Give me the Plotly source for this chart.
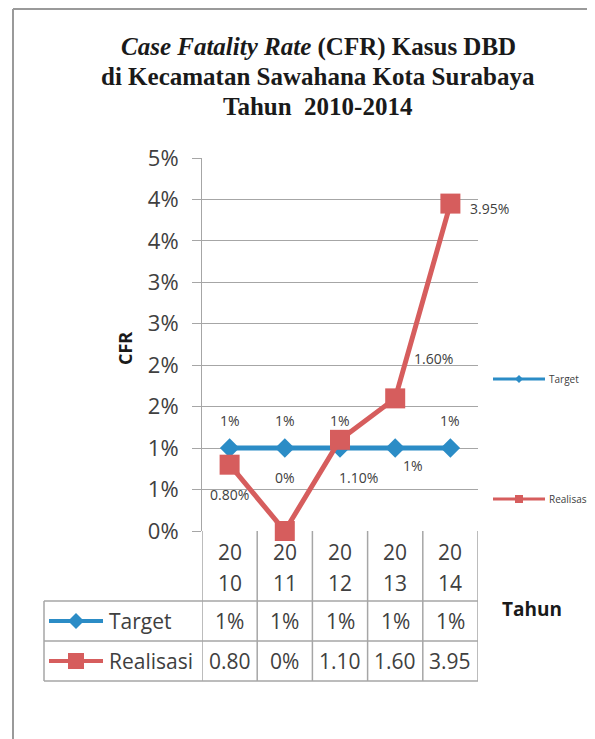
import plotly.graph_objects as go

# ---------------- data ----------------
years = ["2010", "2011", "2012", "2013", "2014"]
target = [1.0, 1.0, 1.0, 1.0, 1.0]
realisasi = [0.80, 0.0, 1.10, 1.60, 3.95]
target_labels = ["1%", "1%", "1%", "1%", "1%"]
realisasi_labels = ["0.80%", "0%", "1.10%", "1.60%", "3.95%"]
target_table = ["1%", "1%", "1%", "1%", "1%"]
realisasi_table = ["0.80", "0%", "1.10", "1.60", "3.95"]
y_tick_vals = [0, 0.5, 1.0, 1.5, 2.0, 2.5, 3.0, 3.5, 4.0, 4.5]
y_tick_text = ["0%", "1%", "1%", "2%", "2%", "3%", "3%", "4%", "4%", "5%"]
series_names = ["Target", "Realisasi"]

# ---------------- layout helpers ----------------
OFF = 8                      # page body margin
W, H = 595 - OFF, 739 - OFF  # visible figure size
def px(x):
    return (x - OFF) / W
def py(y):
    return 1 - (y - OFF) / H

BLUE = "#2b8cc6"
RED = "#d65d5d"
GRID = "#a6a6a6"
TXT = "#404040"
SANS = "Open Sans"
SERIF = "Liberation Serif"

x_idx = list(range(len(years)))

fig = go.Figure()
fig.add_trace(go.Scatter(
    x=x_idx, y=target, mode="lines+markers", name=series_names[0],
    line=dict(color=BLUE, width=5),
    marker=dict(symbol="diamond", size=15, color=BLUE),
    showlegend=False, cliponaxis=False))
fig.add_trace(go.Scatter(
    x=x_idx, y=realisasi, mode="lines+markers", name=series_names[1],
    line=dict(color=RED, width=5),
    marker=dict(symbol="square", size=20, color=RED),
    showlegend=False, cliponaxis=False))

ann = []
shapes = []

# data labels (offsets in pixels)
t_off = [(0, 28), (0, 28), (0, 28), (18, -17), (0, 28)]
r_off = [(0, -30), (0, 54), (18, -38), (38, 40), (39, -5)]
for i in x_idx:
    ann.append(dict(x=i, y=target[i], xref="x", yref="y", text=target_labels[i],
                    showarrow=False, xshift=t_off[i][0], yshift=t_off[i][1],
                    font=dict(family=SANS, size=14, color=TXT)))
    ann.append(dict(x=i, y=realisasi[i], xref="x", yref="y", text=realisasi_labels[i],
                    showarrow=False, xshift=r_off[i][0], yshift=r_off[i][1],
                    font=dict(family=SANS, size=14, color=TXT)))

# title
title_lines = ["<b><i>Case Fatality Rate</i> (CFR) Kasus DBD</b>",
               "<b>di Kecamatan Sawahana Kota Surabaya</b>",
               "<b>Tahun  2010-2014</b>"]
for t, yy in zip(title_lines, [47, 77, 106.5]):
    ann.append(dict(x=px(318), y=py(yy), xref="paper", yref="paper", text=t,
                    showarrow=False, xanchor="center", yanchor="middle",
                    font=dict(family=SERIF, size=25, color="#1a1a1a")))

# axis titles
ann.append(dict(x=px(125), y=py(349), xref="paper", yref="paper", text="<b>CFR</b>",
                showarrow=False, textangle=-90, xanchor="center", yanchor="middle",
                font=dict(family=SANS, size=18, color="#1a1a1a")))
ann.append(dict(x=px(532), y=py(609), xref="paper", yref="paper", text="<b>Tahun</b>",
                showarrow=False, xanchor="center", yanchor="middle",
                font=dict(family=SANS, size=19, color="#1a1a1a")))

# data table
ROW0, ROW1, ROW2, ROW3 = 531, 601, 641, 681
TL = 44
for i in x_idx:
    ann.append(dict(x=i, y=py(552), xref="x", yref="paper", text=years[i][:2],
                    showarrow=False, yanchor="middle",
                    font=dict(family=SANS, size=21, color=TXT)))
    ann.append(dict(x=i, y=py(583), xref="x", yref="paper", text=years[i][2:],
                    showarrow=False, yanchor="middle",
                    font=dict(family=SANS, size=21, color=TXT)))
    ann.append(dict(x=i, y=py(621), xref="x", yref="paper", text=target_table[i],
                    showarrow=False, yanchor="middle",
                    font=dict(family=SANS, size=21, color=TXT)))
    ann.append(dict(x=i, y=py(661), xref="x", yref="paper", text=realisasi_table[i],
                    showarrow=False, yanchor="middle",
                    font=dict(family=SANS, size=21, color=TXT)))

for k in range(len(years) + 1):
    shapes.append(dict(type="line", xref="x", yref="paper", x0=k - 0.5, x1=k - 0.5,
                       y0=py(ROW3), y1=py(ROW0), line=dict(color=GRID, width=1.5)))
for yy in [ROW1, ROW2, ROW3]:
    shapes.append(dict(type="line", xref="paper", yref="paper", x0=px(TL), x1=px(478),
                       y0=py(yy), y1=py(yy), line=dict(color=GRID, width=1.5)))
shapes.append(dict(type="line", xref="paper", yref="paper", x0=px(TL), x1=px(TL),
                   y0=py(ROW3), y1=py(ROW1), line=dict(color=GRID, width=1.5)))

def legend_key(x0, x1, yc, color, lw, symbol, ms):
    shapes.append(dict(type="line", xref="paper", yref="paper", x0=px(x0), x1=px(x1),
                       y0=py(yc), y1=py(yc), line=dict(color=color, width=lw)))
    xc = (x0 + x1) / 2
    if symbol == "diamond":
        path = "M {} {} L {} {} L {} {} L {} {} Z".format(
            px(xc - ms), py(yc), px(xc), py(yc - ms), px(xc + ms), py(yc), px(xc), py(yc + ms))
        shapes.append(dict(type="path", xref="paper", yref="paper", path=path,
                           fillcolor=color, line=dict(width=0)))
    else:
        shapes.append(dict(type="rect", xref="paper", yref="paper",
                           x0=px(xc - ms), x1=px(xc + ms), y0=py(yc + ms), y1=py(yc - ms),
                           fillcolor=color, line=dict(width=0)))

# table legend keys
legend_key(49, 103, 621, BLUE, 4, "diamond", 8)
legend_key(49, 103, 661, RED, 4, "square", 8)
ann.append(dict(x=px(107), y=py(621), xref="paper", yref="paper", text=series_names[0],
                showarrow=False, xanchor="left", yanchor="middle",
                font=dict(family=SANS, size=21, color=TXT)))
ann.append(dict(x=px(107), y=py(661), xref="paper", yref="paper", text=series_names[1],
                showarrow=False, xanchor="left", yanchor="middle",
                font=dict(family=SANS, size=21, color=TXT)))

# right legend
legend_key(493, 545, 379, BLUE, 3, "diamond", 4)
legend_key(493, 545, 499, RED, 3, "square", 4)
ann.append(dict(x=px(547), y=py(379), xref="paper", yref="paper", text=series_names[0],
                showarrow=False, xanchor="left", yanchor="middle",
                font=dict(family=SANS, size=10, color=TXT)))
ann.append(dict(x=px(547), y=py(499), xref="paper", yref="paper", text=series_names[1],
                showarrow=False, xanchor="left", yanchor="middle",
                font=dict(family=SANS, size=10, color=TXT)))

# outer frame (top and left edges)
shapes.append(dict(type="line", xref="paper", yref="paper", x0=px(13), x1=1,
                   y0=py(9), y1=py(9), line=dict(color="#9a9a9a", width=2)))
shapes.append(dict(type="line", xref="paper", yref="paper", x0=px(13), x1=px(13),
                   y0=py(9), y1=0, line=dict(color="#9a9a9a", width=2)))

fig.update_layout(
    width=W, height=H,
    margin=dict(l=0, r=0, t=0, b=0, pad=0, autoexpand=False),
    paper_bgcolor="white", plot_bgcolor="white",
    showlegend=False,
    xaxis=dict(domain=[px(202), px(478)], range=[-0.5, len(years) - 0.5],
               showticklabels=False, showgrid=False, zeroline=False, showline=False,
               ticks="", automargin=False),
    yaxis=dict(domain=[py(531), py(158)], range=[0, 4.5],
               tickvals=y_tick_vals, ticktext=y_tick_text,
               showgrid=True, gridcolor=GRID, gridwidth=1, zeroline=False,
               showline=True, linecolor=GRID, linewidth=1,
               ticks="outside", ticklen=9, tickcolor=GRID, tickwidth=1,
               ticklabelstandoff=9,
               tickfont=dict(family=SANS, size=22, color=TXT), automargin=False),
    annotations=ann, shapes=shapes,
)

fig.write_html("out.html")
